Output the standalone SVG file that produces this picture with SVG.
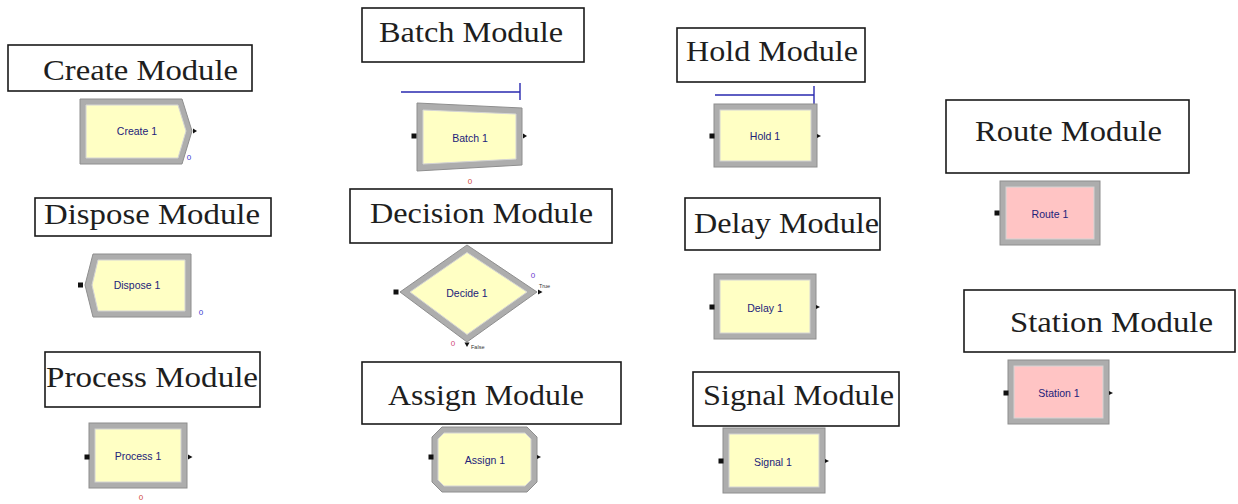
<svg xmlns="http://www.w3.org/2000/svg" width="1238" height="504" viewBox="0 0 1238 504">
  <style>
    .lbl-box { fill: #ffffff; stroke: #1a1a1a; stroke-width: 1.6; }
    .lbl { font-family: "Liberation Serif", "DejaVu Serif", serif; font-size: 30px; fill: #1e1e1e; text-anchor: middle; }
    .frame { fill: #adadad; stroke: #8e8e8e; stroke-width: 1; }
    .body { fill: #ffffc4; stroke: #d4d4d4; stroke-width: 1; }
    .body-red { fill: #ffc4c4; stroke: #d4d4d4; stroke-width: 1; }
    .name { font-family: "Liberation Sans", Arial, sans-serif; font-size: 10.5px; fill: #22227a; text-anchor: middle; dominant-baseline: central; }
    .port { fill: #111111; }
    .count { font-family: "Liberation Sans", Arial, sans-serif; font-size: 8px; text-anchor: middle; }
    .tag { font-family: "Liberation Sans", Arial, sans-serif; font-size: 5.5px; fill: #333333; }
    .queue { stroke: #2a2ab0; stroke-width: 1.4; fill: none; }
  </style>

  <!-- Create -->
  <g id="create">
    <rect class="lbl-box" x="8" y="45" width="244" height="46"/>
    <text class="lbl" x="140.5" y="80" textLength="195" lengthAdjust="spacingAndGlyphs">Create Module</text>
    <polygon class="frame" points="80,99 182,99 192,131 182,164 80,164"/>
    <polygon class="body" points="86,105 178,105 186,131 178,158 86,158"/>
    <text class="name" x="137" y="131">Create 1</text>
    <polygon class="port" points="193,128.5 197,131 193,133.5"/>
    <text class="count" x="189" y="160" fill="#3a3ad0">0</text>
  </g>

  <!-- Dispose -->
  <g id="dispose">
    <rect class="lbl-box" x="35" y="198" width="236" height="38"/>
    <text class="lbl" x="152" y="224" textLength="216" lengthAdjust="spacingAndGlyphs">Dispose Module</text>
    <polygon class="frame" points="93,254 191,254 191,317 93,317 85,285"/>
    <polygon class="body" points="98,260 185,260 185,311 98,311 92,285"/>
    <text class="name" x="137" y="285">Dispose 1</text>
    <rect class="port" x="78" y="282.5" width="5" height="5"/>
    <text class="count" x="201" y="315" fill="#3a3ad0">0</text>
  </g>

  <!-- Process -->
  <g id="process">
    <rect class="lbl-box" x="45" y="352" width="215" height="55"/>
    <text class="lbl" x="152" y="387" textLength="212" lengthAdjust="spacingAndGlyphs">Process Module</text>
    <rect class="frame" x="89" y="423" width="98" height="65"/>
    <rect class="body" x="95" y="429" width="86" height="53"/>
    <text class="name" x="138" y="456">Process 1</text>
    <rect class="port" x="84.5" y="454.5" width="5" height="5"/>
    <polygon class="port" points="188,454.5 192.5,457 188,459.5"/>
    <text class="count" x="141" y="500" fill="#d04a3a">0</text>
  </g>

  <!-- Batch -->
  <g id="batch">
    <rect class="lbl-box" x="362" y="8" width="222" height="54"/>
    <text class="lbl" x="471" y="42" textLength="184" lengthAdjust="spacingAndGlyphs">Batch Module</text>
    <path class="queue" d="M401,92 H520 M520,83 V100"/>
    <polygon class="frame" points="417,103 522,108 522,165 417,171"/>
    <polygon class="body" points="423,110 516,114 516,159 423,164"/>
    <text class="name" x="470" y="138">Batch 1</text>
    <rect class="port" x="411.5" y="133.5" width="5" height="5"/>
    <polygon class="port" points="523,133.5 527,136 523,138.5"/>
    <text class="count" x="470" y="184" fill="#d04a3a">0</text>
  </g>

  <!-- Decide -->
  <g id="decide">
    <rect class="lbl-box" x="350" y="189" width="262" height="54"/>
    <text class="lbl" x="481.5" y="223" textLength="223" lengthAdjust="spacingAndGlyphs">Decision Module</text>
    <polygon class="frame" points="400,292 467,245 537,292 467,342"/>
    <polygon class="body" points="410,292 467,252.5 527,292 467,334.5"/>
    <text class="name" x="467" y="293">Decide 1</text>
    <rect class="port" x="393.5" y="289.5" width="5" height="5"/>
    <polygon class="port" points="538,289.5 542.5,292 538,294.5"/>
    <polygon class="port" points="464.5,342.5 469.5,342.5 467,347"/>
    <text class="count" x="533" y="278" fill="#6a3ad0">0</text>
    <text class="tag" x="539" y="288">True</text>
    <text class="count" x="453" y="346" fill="#d04a7a">0</text>
    <text class="tag" x="471" y="349">False</text>
  </g>

  <!-- Assign -->
  <g id="assign">
    <rect class="lbl-box" x="362" y="362" width="259" height="62"/>
    <text class="lbl" x="486" y="405" textLength="196" lengthAdjust="spacingAndGlyphs">Assign Module</text>
    <polygon class="frame" points="442,427 527,427 537,437 537,482 527,492 442,492 432,482 432,437"/>
    <polygon class="body" points="444,433 525,433 531,439 531,480 525,486 444,486 438,480 438,439"/>
    <text class="name" x="485" y="460">Assign 1</text>
    <rect class="port" x="428.5" y="454.5" width="5" height="5"/>
    <polygon class="port" points="537,455 541,457 537,459"/>
  </g>

  <!-- Hold -->
  <g id="hold">
    <rect class="lbl-box" x="677" y="28" width="188" height="54"/>
    <text class="lbl" x="772" y="61" textLength="172" lengthAdjust="spacingAndGlyphs">Hold Module</text>
    <path class="queue" d="M715,95 H814 M814,86 V104"/>
    <rect class="frame" x="714" y="104" width="103" height="63"/>
    <rect class="body" x="720" y="110" width="91" height="51"/>
    <text class="name" x="765" y="136">Hold 1</text>
    <rect class="port" x="709.5" y="133.5" width="5" height="5"/>
    <polygon class="port" points="817,134 821,136 817,138"/>
  </g>

  <!-- Delay -->
  <g id="delay">
    <rect class="lbl-box" x="685" y="198" width="195" height="52"/>
    <text class="lbl" x="786.5" y="233" textLength="185" lengthAdjust="spacingAndGlyphs">Delay Module</text>
    <rect class="frame" x="714" y="274" width="102" height="65"/>
    <rect class="body" x="720" y="280" width="90" height="53"/>
    <text class="name" x="765" y="308">Delay 1</text>
    <rect class="port" x="709.5" y="304.5" width="5" height="5"/>
    <polygon class="port" points="816,305 820,307 816,309"/>
  </g>

  <!-- Signal -->
  <g id="signal">
    <rect class="lbl-box" x="693" y="372" width="206" height="54"/>
    <text class="lbl" x="798.5" y="405" textLength="191" lengthAdjust="spacingAndGlyphs">Signal Module</text>
    <rect class="frame" x="723" y="428" width="102" height="65"/>
    <rect class="body" x="729" y="434" width="90" height="53"/>
    <text class="name" x="773" y="462">Signal 1</text>
    <rect class="port" x="718.5" y="458.5" width="5" height="5"/>
    <polygon class="port" points="825,459 829,461 825,463"/>
  </g>

  <!-- Route -->
  <g id="route">
    <rect class="lbl-box" x="946" y="100" width="243" height="73"/>
    <text class="lbl" x="1068.5" y="141" textLength="187" lengthAdjust="spacingAndGlyphs">Route Module</text>
    <rect class="frame" x="1000" y="181" width="100" height="64"/>
    <rect class="body-red" x="1006" y="187" width="88" height="52"/>
    <text class="name" x="1050" y="214">Route 1</text>
    <rect class="port" x="994.5" y="210.5" width="5" height="5"/>
  </g>

  <!-- Station -->
  <g id="station">
    <rect class="lbl-box" x="964" y="290" width="271" height="62"/>
    <text class="lbl" x="1111.5" y="332" textLength="203" lengthAdjust="spacingAndGlyphs">Station Module</text>
    <rect class="frame" x="1008" y="360" width="101" height="64"/>
    <rect class="body-red" x="1014" y="366" width="89" height="52"/>
    <text class="name" x="1059" y="393">Station 1</text>
    <rect class="port" x="1003.5" y="390.5" width="5" height="5"/>
    <polygon class="port" points="1109,391 1113,393 1109,395"/>
  </g>

  <!-- module-to-module links (none in this layout) -->
  <g id="connectors"/>
</svg>
